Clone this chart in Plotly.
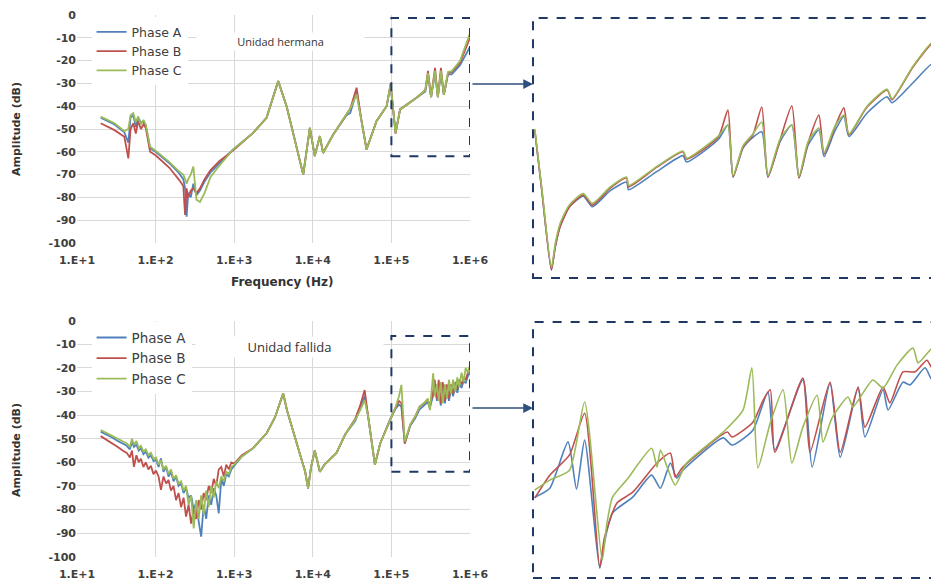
import plotly.graph_objects as go

# ---------------- Top panel: "Unidad hermana" (frequency in Hz, amplitude in dB)
top_f = [20, 30, 40, 45, 48, 52, 56, 60, 65, 70,
         75, 85, 100, 150, 200, 225, 237, 248, 260, 280,
         302, 331, 367, 420, 500, 650, 968, 1740, 2580, 3630,
         4640, 5630, 7550, 9180, 10600, 12300, 13500, 18200, 26900, 30000,
         36100, 41000, 48300, 64600, 87000, 97700, 113000, 129000, 209000, 270000,
         292000, 320000, 359000, 390000, 427000, 465000, 525000, 585000, 746000, 1000000]
top_a = [-45.0, -48.0, -51.5, -56.0, -45.0, -44.0, -49.0, -45.0, -47.0, -47.0,
         -48.5, -58.5, -60.0, -65.0, -69.5, -72.0, -76.0, -88.5, -78.0, -80.0,
         -74.0, -79.0, -77.0, -73.0, -69.0, -65.0, -59.0, -51.7, -45.1, -29.0,
         -40.0, -51.7, -70.0, -49.5, -61.9, -53.1, -60.5, -52.4, -44.0, -43.0,
         -33.5, -45.0, -59.0, -46.6, -40.0, -31.0, -51.7, -41.4, -36.3, -33.5,
         -26.5, -36.0, -25.5, -36.0, -25.5, -35.0, -26.0, -26.0, -22.0, -14.0]
top_b = [-47.5, -50.5, -53.4, -62.9, -50.0, -47.5, -52.0, -46.5, -50.0, -48.0,
         -49.5, -60.0, -61.5, -67.0, -72.4, -75.0, -87.7, -76.0, -80.0, -77.0,
         -76.0, -78.2, -76.0, -72.0, -68.0, -64.0, -59.5, -51.7, -45.1, -29.0,
         -40.0, -51.7, -70.0, -49.5, -61.9, -53.1, -60.5, -52.4, -43.6, -41.0,
         -31.9, -45.0, -59.0, -46.6, -40.0, -30.0, -52.0, -41.4, -36.3, -33.0,
         -24.5, -36.0, -23.2, -36.0, -23.2, -35.0, -25.5, -25.0, -21.0, -10.0]
top_c = [-44.6, -47.5, -51.0, -50.0, -44.0, -43.0, -47.0, -44.5, -48.0, -46.0,
         -48.0, -57.8, -59.5, -64.5, -68.7, -70.0, -72.0, -74.0, -72.0, -70.0,
         -66.5, -81.0, -82.0, -78.0, -71.0, -66.0, -59.0, -51.7, -45.1, -29.0,
         -40.0, -51.7, -70.0, -49.5, -61.9, -53.1, -60.5, -52.4, -43.6, -41.0,
         -34.8, -45.0, -59.0, -46.6, -40.0, -30.5, -51.7, -41.4, -36.3, -33.0,
         -25.5, -36.0, -24.5, -36.0, -24.5, -35.0, -25.0, -24.6, -20.2, -8.0]

# ---------------- Bottom panel: "Unidad fallida"
bot_f = [20, 24, 28, 33, 38, 43, 47, 50, 53, 57,
         61, 65, 70, 75, 81, 87, 94, 101, 109, 117,
         126, 136, 146, 157, 169, 182, 196, 211, 227, 244,
         263, 283, 305, 328, 353, 380, 409, 440, 474, 510,
         549, 591, 636, 685, 737, 793, 854, 920, 1000,
         1250, 1740, 2580, 3300, 3800, 4200, 4700, 5600, 6840, 8000,
         8700, 9500, 10600, 12300, 14100, 16600, 20000, 26000, 34700, 40000,
         45700, 50700, 56000, 61700, 72000, 95500, 112000, 125000, 134000, 148000,
         174000, 200000, 229000, 260000, 290000, 309000, 340000, 355000, 380000, 400000,
         425000, 450000, 480000, 510000, 540000, 575000, 610000, 650000, 690000, 730000,
         780000, 830000, 880000, 940000, 1000000]
bot_a = [-47.0, -48.3, -49.5, -51.0, -52.0, -53.0, -54.5, -51.5, -53.5, -52.5,
         -55.0, -54.0, -56.5, -55.5, -58.0, -57.0, -59.5, -59.0, -62.0, -58.3,
         -64.0, -62.0, -66.0, -64.0, -68.0, -66.0, -70.0, -69.0, -73.0, -71.0,
         -75.0, -74.0, -80.0, -77.0, -85.0, -91.5, -78.0, -84.0, -74.0, -78.0,
         -71.0, -74.0, -81.6, -67.0, -70.0, -65.0, -66.0, -63.0, -61.5,
         -57.5, -54.0, -47.7, -41.0, -35.0, -30.8, -38.0, -46.3, -56.2, -64.0,
         -71.0, -62.0, -55.0, -64.0, -61.0, -58.5, -56.0, -48.0, -42.5, -37.0,
         -32.0, -40.7, -52.0, -61.0, -52.0, -42.0, -37.5, -35.5, -36.4, -52.0,
         -44.5, -41.5, -37.5, -36.0, -34.5, -37.0, -31.5, -26.5, -34.0, -26.5,
         -36.0, -27.5, -35.0, -28.5, -34.0, -28.5, -32.0, -27.5, -30.5, -26.5,
         -28.5, -25.5, -26.5, -23.5, -22.0]
bot_b = [-48.9, -50.5, -52.0, -53.5, -55.0, -56.0, -58.0, -55.0, -61.9, -57.0,
         -60.0, -58.5, -62.0, -60.0, -63.0, -61.5, -65.0, -63.5, -66.0, -71.7,
         -66.0, -69.0, -67.5, -72.0, -70.0, -76.0, -73.0, -79.0, -75.0, -83.0,
         -78.0, -86.0, -80.0, -84.0, -76.0, -80.0, -73.0, -76.0, -70.0, -73.0,
         -67.0, -70.0, -63.0, -62.0, -66.0, -61.0, -63.0, -60.0, -60.5,
         -57.0, -54.0, -47.7, -41.0, -35.0, -30.8, -38.0, -46.3, -56.2, -64.0,
         -71.0, -62.0, -55.0, -64.0, -61.0, -58.5, -56.0, -48.0, -41.5, -36.0,
         -29.4, -40.7, -52.0, -61.0, -52.0, -42.0, -37.0, -34.0, -35.0, -52.0,
         -44.0, -40.7, -36.4, -35.0, -33.5, -36.0, -30.0, -25.0, -33.0, -25.0,
         -35.0, -26.0, -34.0, -27.0, -33.0, -27.0, -31.0, -26.0, -29.0, -25.0,
         -27.0, -24.0, -25.0, -22.0, -21.5]
bot_c = [-46.3, -47.5, -48.8, -50.0, -51.0, -52.0, -53.5, -50.0, -52.5, -51.0,
         -54.0, -53.0, -55.5, -54.5, -57.0, -56.0, -58.5, -58.0, -61.0, -59.0,
         -63.0, -61.5, -65.0, -63.0, -67.0, -65.5, -69.0, -68.0, -72.0, -70.0,
         -78.0, -74.0, -88.0, -76.0, -84.0, -74.0, -82.0, -72.0, -79.0, -70.0,
         -75.0, -68.0, -71.0, -66.0, -68.0, -64.0, -65.0, -62.0, -61.0,
         -57.5, -54.0, -47.7, -41.0, -35.0, -30.8, -38.0, -46.3, -56.2, -64.0,
         -71.0, -62.0, -55.0, -64.0, -61.0, -58.5, -56.0, -48.0, -42.0, -38.0,
         -33.6, -40.7, -52.0, -61.0, -52.0, -42.0, -37.0, -32.0, -27.2, -51.2,
         -44.0, -40.7, -36.4, -35.0, -33.0, -37.9, -22.3, -32.0, -27.0, -34.0,
         -26.0, -35.0, -27.0, -33.0, -25.0, -31.0, -25.0, -30.0, -24.0, -28.0,
         -22.0, -26.0, -20.0, -22.0, -18.8]

# ---------------- Zoomed insets, 100 kHz - 1 MHz (frequency in kHz, amplitude in dB)
tin_f = [101, 105, 111, 113.5, 116.6, 123, 133, 140, 155, 170,
         172, 202, 234, 239, 286, 302, 311, 329, 348, 366,
         379, 406, 434, 452, 476, 506, 521, 554, 583, 600,
         665, 745, 766, 863, 967, 994]
tin_a = [-27.3, -41.0, -60.1, -54.6, -50.0, -45.3, -42.8, -45.3, -41.5, -39.5,
         -41.3, -37.0, -33.3, -34.8, -29.5, -26.1, -38.3, -31.5, -29.0, -27.7,
         -38.3, -30.0, -26.1, -38.5, -30.8, -27.3, -33.5, -27.5, -24.1, -28.8,
         -23.3, -19.5, -20.9, -16.2, -11.6, -12.7]
tin_b = [-27.3, -41.0, -60.1, -54.6, -50.0, -45.3, -42.5, -44.9, -40.9, -38.5,
         -40.6, -36.0, -32.4, -34.1, -28.9, -22.6, -38.3, -31.3, -28.4, -21.9,
         -38.3, -29.6, -21.6, -38.5, -30.3, -23.8, -32.9, -26.6, -22.1, -28.4,
         -21.9, -17.9, -20.2, -12.5, -6.9, -8.0]
tin_c = [-27.0, -40.5, -59.5, -53.8, -49.2, -44.8, -42.2, -44.5, -40.6, -38.3,
         -40.3, -35.8, -32.2, -33.9, -28.7, -26.1, -38.0, -31.0, -28.2, -25.4,
         -38.0, -29.4, -26.1, -38.2, -30.0, -26.8, -32.6, -26.4, -23.8, -28.2,
         -21.7, -17.7, -20.0, -12.3, -6.6, -7.5]

bin_f_a = [101, 110, 122, 128, 134, 146, 150, 157, 176, 196,
           206, 218, 226, 234, 294, 309, 348, 379, 394, 462,
           487, 539, 571, 632, 657, 728, 749, 815, 848, 924,
           961, 994]
bin_a = [-46.0, -44.0, -33.7, -44.2, -33.3, -61.8, -56.0, -49.5, -46.0, -41.1,
         -44.0, -38.4, -41.7, -40.0, -32.8, -34.4, -31.1, -22.6, -35.5, -19.9,
         -39.3, -20.6, -37.1, -21.7, -32.6, -22.1, -26.6, -20.4, -21.0, -17.2,
         -19.9, -17.7]
bin_f_b = [101, 110, 123, 134, 146, 150, 161, 176, 202, 218,
           224, 234, 301, 309, 348, 369, 384, 394, 462, 481,
           539, 571, 632, 657, 728, 757, 815, 873, 934, 961,
           994]
bin_b = [-46.2, -41.1, -36.6, -27.3, -61.6, -55.0, -47.3, -44.9, -38.4, -36.2,
         -41.5, -39.3, -31.5, -32.6, -29.3, -24.4, -22.1, -36.0, -19.5, -36.0,
         -20.4, -36.0, -21.5, -30.4, -21.5, -25.0, -18.1, -18.1, -15.5, -17.2,
         -15.0]
bin_f_c = [101, 110, 123, 134, 148, 152, 157, 170, 196, 202,
           206, 214, 224, 239, 294, 329, 346, 358, 384, 413,
           434, 462, 501, 518, 545, 597, 614, 687, 728, 788,
           863, 888, 967, 994]
bin_c = [-44.4, -42.2, -40.0, -24.8, -60.0, -52.0, -46.0, -42.2, -35.1, -39.3,
         -35.5, -39.3, -43.3, -38.4, -31.5, -26.6, -17.2, -39.5, -29.5, -22.1,
         -38.4, -30.4, -23.3, -33.7, -28.4, -23.7, -25.9, -19.9, -21.7, -16.6,
         -12.8, -16.1, -12.6, -12.8]

phase_names = ["Phase A", "Phase B", "Phase C"]
colors = ["#4f81bd", "#c0504d", "#9bbb59"]
x_tickvals = [1e1, 1e2, 1e3, 1e4, 1e5, 1e6]
x_ticktext = ["1.E+1", "1.E+2", "1.E+3", "1.E+4", "1.E+5", "1.E+6"]
y_tickvals = [0, -10, -20, -30, -40, -50, -60, -70, -80, -90, -100]
y_ticktext = ["0", "-10", "-20", "-30", "-40", "-50", "-60", "-70", "-80", "-90", "-100"]

fig = go.Figure()

for name, col, ys in zip(phase_names, colors, [top_a, top_b, top_c]):
    fig.add_trace(go.Scatter(x=top_f, y=ys, mode="lines", name=name,
                             line=dict(color=col, width=1.8),
                             xaxis="x", yaxis="y", legend="legend"))
for name, col, ys in zip(phase_names, colors, [bot_a, bot_b, bot_c]):
    fig.add_trace(go.Scatter(x=bot_f, y=ys, mode="lines", name=name,
                             line=dict(color=col, width=1.8),
                             xaxis="x2", yaxis="y2", legend="legend2"))
for col, ys in zip(colors, [tin_a, tin_b, tin_c]):
    fig.add_trace(go.Scatter(x=[v * 1000 for v in tin_f], y=ys, mode="lines",
                             line=dict(color=col, width=1.6, shape="spline", smoothing=0.6),
                             showlegend=False, xaxis="x3", yaxis="y3"))
for col, fs, ys in zip(colors, [bin_f_a, bin_f_b, bin_f_c], [bin_a, bin_b, bin_c]):
    fig.add_trace(go.Scatter(x=[v * 1000 for v in fs], y=ys, mode="lines",
                             line=dict(color=col, width=1.6, shape="spline", smoothing=0.6),
                             showlegend=False, xaxis="x4", yaxis="y4"))

tick_font = dict(family="DejaVu Sans", size=11, color="#404040", weight="bold")
grid = "#d9d9d9"
xax = dict(type="log", range=[1, 6], tickvals=x_tickvals, ticktext=x_ticktext,
           showgrid=True, gridcolor=grid, gridwidth=1, zeroline=False, showline=False,
           ticks="", tickfont=tick_font, automargin=False, ticklabelstandoff=9)
yax = dict(range=[-100, 0], tickvals=y_tickvals, ticktext=y_ticktext, showgrid=True,
           gridcolor=grid, gridwidth=1, zeroline=False, showline=False, ticks="",
           tickfont=tick_font, automargin=False, ticklabelstandoff=0)

# The page body adds an 8 px offset, so positions are laid out 8 px up/left.
fig.update_layout(
    width=939, height=583,
    margin=dict(l=0, r=0, t=0, b=0),
    paper_bgcolor="white", plot_bgcolor="white",
    xaxis=dict(xax, domain=[0.0735, 0.4920], anchor="y"),
    yaxis=dict(yax, domain=[0.5969, 0.9880], anchor="x"),
    xaxis2=dict(xax, domain=[0.0735, 0.4920], anchor="y2"),
    yaxis2=dict(yax, domain=[0.0588, 0.4636], anchor="x2"),
    xaxis3=dict(type="log", range=[5, 6], domain=[0.5591, 0.9915], anchor="y3", visible=False),
    yaxis3=dict(range=[-62, -1], domain=[0.5369, 0.9829], anchor="x3", visible=False),
    xaxis4=dict(type="log", range=[5, 6], domain=[0.5591, 0.9915], anchor="y4", visible=False),
    yaxis4=dict(range=[-64, -7], domain=[0.0223, 0.4614], anchor="x4", visible=False),
    legend=dict(x=0.089, y=0.984, xanchor="left", yanchor="top", bgcolor="white",
                font=dict(family="DejaVu Sans", size=12.5, color="#404040"),
                itemwidth=30, tracegroupgap=0),
    legend2=dict(x=0.089, y=0.461, xanchor="left", yanchor="top", bgcolor="white",
                 font=dict(family="DejaVu Sans", size=13.5, color="#404040"),
                 itemwidth=30, tracegroupgap=0),
    showlegend=True,
)

box_style = dict(type="rect", line=dict(color="#1f3864", width=2, dash="dash"),
                 fillcolor="rgba(0,0,0,0)")
fig.add_shape(box_style, xref="x", yref="y", x0=1e5, x1=1e6, y0=-62, y1=-1.3)
fig.add_shape(box_style, xref="x2", yref="y2", x0=1e5, x1=1e6, y0=-64, y1=-6.5)
fig.add_shape(box_style, xref="x3 domain", yref="y3 domain", x0=0, x1=1.05, y0=0, y1=1)
fig.add_shape(box_style, xref="x4 domain", yref="y4 domain", x0=0, x1=1.05, y0=0, y1=1)

# arrows from the boxes to the zoomed views
for xr, yr, yy in [("x3 domain", "y3 domain", 0.746), ("x4 domain", "y4 domain", 0.664)]:
    fig.add_annotation(xref=xr, yref=yr, x=0, y=yy, ax=-62, ay=0, text="",
                       showarrow=True, arrowhead=2, arrowsize=1.3, arrowwidth=1.5,
                       arrowcolor="#2f4f7f")

fig.add_annotation(xref="paper", yref="paper", x=0.2897, y=0.9417, text="Unidad hermana",
                   xanchor="center", yanchor="middle",
                   showarrow=False, bgcolor="white", width=165,
                   font=dict(family="Open Sans", size=11, color="#333333"))
fig.add_annotation(xref="paper", yref="paper", x=0.3003, y=0.4185, text="Unidad fallida",
                   xanchor="center", yanchor="middle",
                   showarrow=False, bgcolor="white", width=185,
                   font=dict(family="Open Sans", size=13, color="#333333"))

title_font = dict(family="DejaVu Sans", size=11, color="#333333", weight="bold")
fig.add_annotation(xref="paper", yref="paper", x=0.0096, y=0.7925, text="Amplitude (dB)",
                   xanchor="center", yanchor="middle",
                   textangle=-90, showarrow=False, font=title_font)
fig.add_annotation(xref="paper", yref="paper", x=0.0096, y=0.2419, text="Amplitude (dB)",
                   xanchor="center", yanchor="middle",
                   textangle=-90, showarrow=False, font=title_font)
fig.add_annotation(xref="paper", yref="paper", x=0.2918, y=0.5300, text="Frequency (Hz)",
                   xanchor="center", yanchor="middle",
                   showarrow=False, font=dict(title_font, size=12))

fig.write_html("out.html")
